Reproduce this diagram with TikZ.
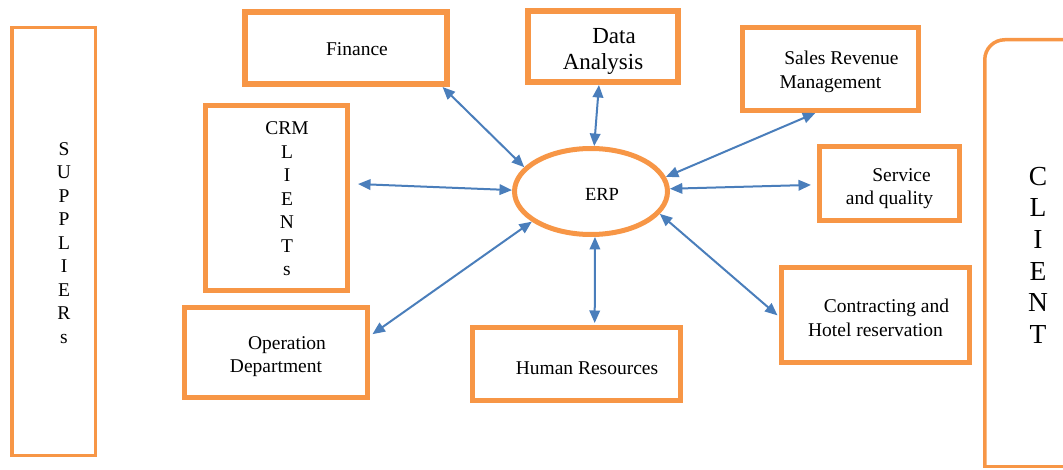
\documentclass[tikz,border=0pt]{standalone}
\usepackage{fontspec}
\setmainfont{Liberation Serif}
\usetikzlibrary{arrows.meta,shapes.geometric}

\definecolor{boxorange}{HTML}{F79646}
\definecolor{linkblue}{HTML}{4A7EBB}

\tikzset{
  module/.style={draw=boxorange, line width=5pt, inner sep=0pt, align=center, font=\fontsize{19.5}{23.5}\selectfont},
  sidebox/.style={module, line width=3.5pt},
  hub/.style={ellipse, draw=boxorange, line width=5pt, inner sep=0pt, font=\fontsize{18.5}{22}\selectfont},
  link/.style={<->, >={Triangle[length=12.5pt,width=10.5pt]}, draw=linkblue, line width=2pt}
}

\begin{document}
\begin{tikzpicture}[x=1pt, y=-1pt]
\useasboundingbox (0,0) rectangle (1063,470);

\node[sidebox, minimum width=83.5pt, minimum height=427.5pt] (suppliers) at (53.5,241.5) {\hspace*{21pt}\begin{tabular}{@{}c@{}}\rule{0pt}{22.5pt}S\\U\\P\\P\\L\\I\\E\\R\\s\end{tabular}};
\node[module, line width=6pt, minimum width=202pt, minimum height=72pt] (finance) at (346,48) {\rule{0pt}{15.3pt}\hspace*{22pt}Finance};
\node[module, line width=6pt, minimum width=150pt, minimum height=71pt, font=\fontsize{23}{25.5}\selectfont] (data) at (603,46.5) {\rule{0pt}{25pt}\hspace*{22pt}Data\\Analysis};
\node[module, minimum width=176pt, minimum height=83pt] (sales) at (830.5,69) {\rule{0pt}{19.3pt}\hspace*{22pt}Sales Revenue\\Management};
\node[module, minimum width=142pt, minimum height=185pt] (crm) at (276.5,198) {\hspace*{21pt}\begin{tabular}{@{}c@{}}\rule{0pt}{21.5pt}CRM\\L\\I\\E\\N\\T\\s\end{tabular}};
\node[hub, minimum width=153pt, minimum height=86pt] (erp) at (591,191.5) {\rule{0pt}{18.2pt}\hspace*{22pt}ERP};
\node[module, minimum width=140pt, minimum height=74pt] (service) at (889.5,183.5) {\rule{0pt}{23.3pt}\hspace*{24pt}Service\\and quality};
\node[module, minimum width=188pt, minimum height=95pt] (contract) at (875.5,315) {\rule{0pt}{19.3pt}\hspace*{22pt}Contracting and\\Hotel reservation};
\node[module, minimum width=183pt, minimum height=90pt] (oper) at (276,352.5) {\rule{0pt}{21.3pt}\hspace*{22pt}Operation\\Department};
\node[module, minimum width=208pt, minimum height=73pt] (hr) at (576.5,364) {\rule{0pt}{21.3pt}\hspace*{21pt}Human Resources};

% client box runs off the right edge, rounded only at top left
\node[sidebox, draw=none, outer sep=0pt, minimum width=106.5pt, minimum height=426.5pt, font=\fontsize{27.5}{31.6}\selectfont] (client) at (1038,253) {\begin{tabular}{@{}c@{}}\rule{0pt}{32pt}C\\L\\I\\E\\N\\T\end{tabular}};
\draw[boxorange, line width=3.5pt, line cap=rect] (client.south east) -- (client.south west);
\draw[boxorange, line width=3.5pt, rounded corners=20pt] (client.south west) -- (client.north west) -- (client.north east);

\draw[link] (erp.160) -- (finance.-22);
\draw[link] (erp.86) -- (data.264);
\draw[link] (erp.11) -- (sales.251);
\draw[link, shorten >=8pt] (erp.179) -- (crm.11);
\draw[link, shorten >=6pt] (erp.2) -- (service.181);
\draw[link, shorten >=3pt] (erp.207) -- (oper.10);
\draw[link, shorten >=2pt] (erp.275) -- (hr.65);
\draw[link, shorten >=2pt] (erp.342) -- (contract.181);
\end{tikzpicture}
\end{document}
